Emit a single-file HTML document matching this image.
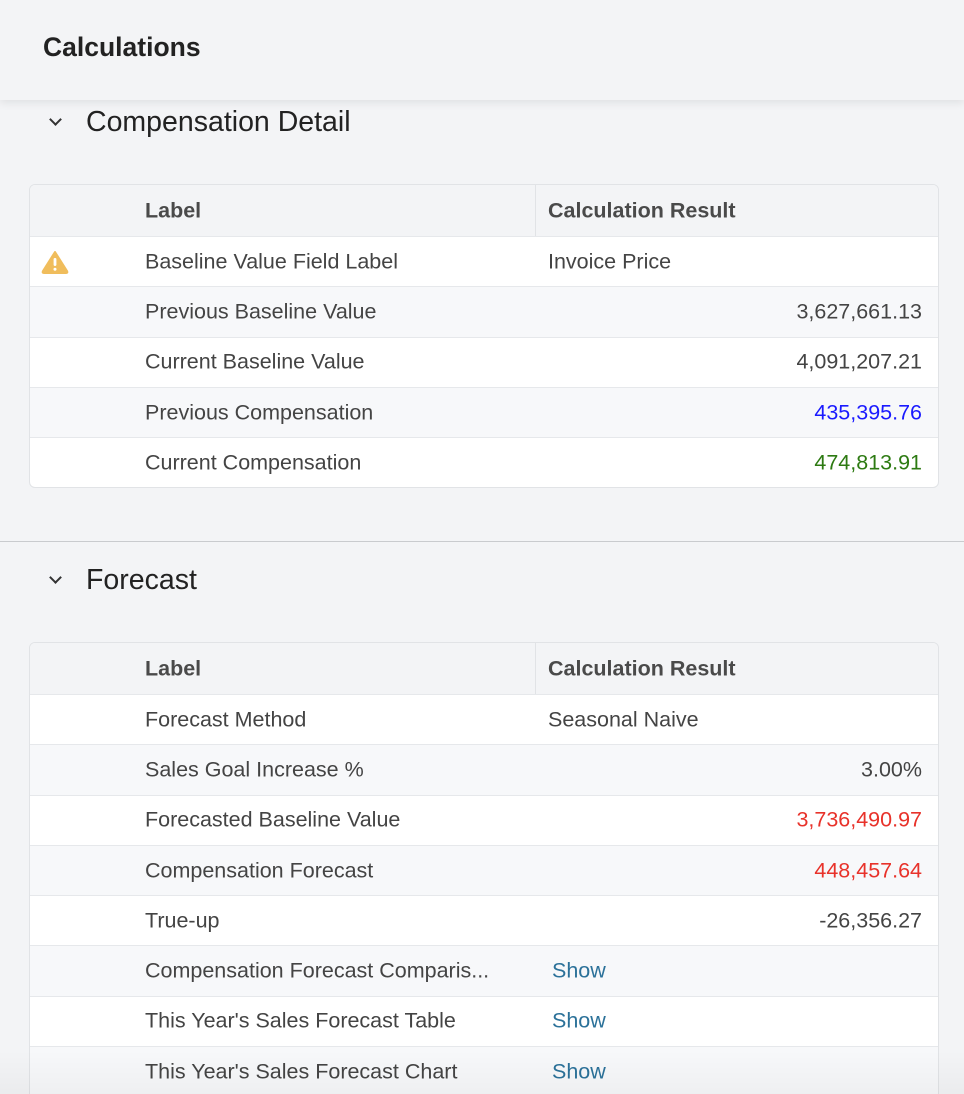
<!DOCTYPE html>
<html style="width:964px;height:1094px;overflow:hidden"><head><style>
*{margin:0;padding:0;box-sizing:border-box}
body{width:964px;height:1094px;overflow:hidden;background:#f3f4f6;font-family:"Liberation Sans",sans-serif;position:relative}
.top{position:absolute;left:0;top:0;width:964px;height:100px;background:#f3f4f6;box-shadow:0 3px 8px rgba(0,0,0,0.08);z-index:2}
.top h1{position:absolute;left:43px;top:32px;font-size:26.5px;font-weight:bold;color:#222}
.sec{position:absolute;left:0;width:964px}
.sec .chev{position:absolute;left:51px;width:9px;height:9px;border-right:2.5px solid #333;border-bottom:2.5px solid #333;transform:rotate(45deg)}
.sec h2{position:absolute;left:86px;font-size:28.5px;font-weight:normal;color:#222}
.tbl{position:absolute;left:29px;width:910px;border:1px solid #e1e3e6;border-radius:6px;background:#fff;overflow:hidden}
.row{position:relative;height:50.3px;border-top:1px solid #e6e8eb;font-size:21.5px;color:#444}
.row:first-child{border-top:none}
.row.alt{background:#f7f8fa}
.row.hd{background:#f3f4f6;font-weight:bold;color:#4a4a4a;height:51px}
.row span{position:absolute;top:50%;transform:translateY(-50%);white-space:nowrap}
.l{left:115px}.c{left:518px}.r{right:16px}
.hd .div{position:absolute;left:505px;top:0;bottom:0;border-left:1px solid #e1e3e6}
.link{color:#2b7199;left:522px}
</style></head><body>
<div class="top"><h1>Calculations</h1></div>
<div class="sec" style="top:0"><div class="chev" style="top:115px"></div><h2 style="top:106px">Compensation Detail</h2></div>
<div class="tbl" style="top:184px">
<div class="row hd"><span class="l">Label</span><div class="div"></div><span class="c">Calculation Result</span></div>
<div class="row"><svg style="position:absolute;left:11px;top:13px" width="28" height="24" viewBox="0 0 28 24"><path d="M14 2 L26 21 Q27 23 25 23 L3 23 Q1 23 2 21 Z" fill="#f0bd5c" stroke="#f0bd5c" stroke-linejoin="round" stroke-width="2"/><rect x="12.6" y="8" width="2.8" height="8" rx="1.2" fill="#fff"/><circle cx="14" cy="19.3" r="1.5" fill="#fff"/></svg><span class="l">Baseline Value Field Label</span><span class="c">Invoice Price</span></div>
<div class="row alt"><span class="l">Previous Baseline Value</span><span class="r">3,627,661.13</span></div>
<div class="row"><span class="l">Current Baseline Value</span><span class="r">4,091,207.21</span></div>
<div class="row alt"><span class="l">Previous Compensation</span><span class="r" style="color:#1a1aff">435,395.76</span></div>
<div class="row"><span class="l">Current Compensation</span><span class="r" style="color:#2d7a12">474,813.91</span></div>
</div>
<div style="position:absolute;left:0;top:541px;width:964px;border-top:1px solid #c9cbce"></div>
<div class="sec" style="top:0"><div class="chev" style="top:573px"></div><h2 style="top:564px">Forecast</h2></div>
<div class="tbl" style="top:642px;height:460px">
<div class="row hd"><span class="l">Label</span><div class="div"></div><span class="c">Calculation Result</span></div>
<div class="row"><span class="l">Forecast Method</span><span class="c">Seasonal Naive</span></div>
<div class="row alt"><span class="l">Sales Goal Increase %</span><span class="r">3.00%</span></div>
<div class="row"><span class="l">Forecasted Baseline Value</span><span class="r" style="color:#e8322a">3,736,490.97</span></div>
<div class="row alt"><span class="l">Compensation Forecast</span><span class="r" style="color:#e8322a">448,457.64</span></div>
<div class="row"><span class="l">True-up</span><span class="r">-26,356.27</span></div>
<div class="row alt"><span class="l">Compensation Forecast Comparis...</span><span class="link">Show</span></div>
<div class="row"><span class="l">This Year's Sales Forecast Table</span><span class="link">Show</span></div>
<div class="row alt"><span class="l">This Year's Sales Forecast Chart</span><span class="link">Show</span></div>
</div>
<div style="position:absolute;left:0;top:1050px;width:964px;height:44px;background:linear-gradient(to bottom,rgba(0,0,0,0),rgba(0,0,0,0.035));pointer-events:none"></div>
</body></html>
